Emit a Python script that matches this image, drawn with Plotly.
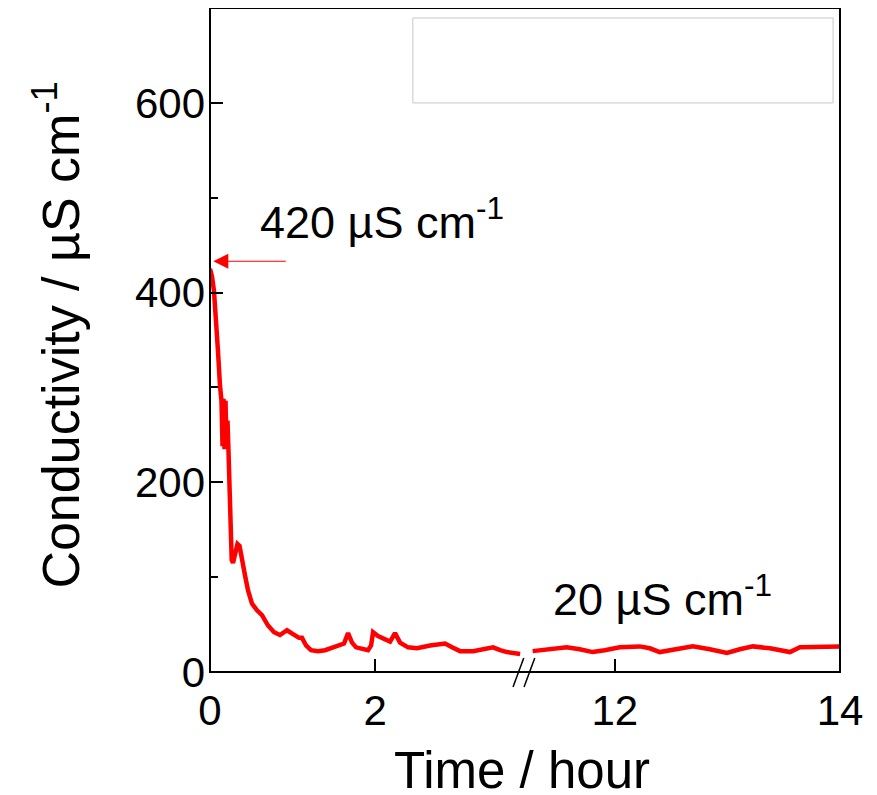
import plotly.graph_objects as go

# ---- data ----
time_early = [0, 0.024, 0.048, 0.073, 0.097, 0.121, 0.139, 0.152, 0.164, 0.176, 0.188, 0.2, 0.212, 0.224,
              0.236, 0.242, 0.255, 0.263, 0.279, 0.303, 0.333, 0.358, 0.388, 0.424, 0.461, 0.509, 0.57,
              0.63, 0.703, 0.776, 0.848, 0.933, 1.006, 1.079, 1.115, 1.164, 1.224, 1.309, 1.394, 1.491,
              1.576, 1.624, 1.673, 1.721, 1.77, 1.842, 1.915, 1.952, 1.976, 2.036, 2.121, 2.182, 2.242,
              2.303, 2.4, 2.509, 2.667, 2.848, 2.933, 3.03, 3.188, 3.333, 3.43, 3.515, 3.6, 3.758]
cond_early = [425, 417, 402, 375, 338, 302, 286, 238, 288, 235, 286, 238, 265, 233,
              201, 160, 133, 118, 115, 123, 135, 133, 117, 102, 86, 72, 65,
              60, 49, 42, 39, 44, 40, 36, 36, 28, 23, 22, 23, 26,
              29, 30, 41, 31, 26, 24, 23, 28, 42, 38, 34, 32, 41,
              31, 26, 25, 28, 30, 26, 22, 22, 24, 26, 23, 21, 19]

time_late = [11.271, 11.378, 11.467, 11.573, 11.689, 11.804, 11.911, 12.044, 12.222, 12.311, 12.4,
             12.533, 12.693, 12.844, 12.996, 13.111, 13.227, 13.378, 13.556, 13.644, 13.822, 14.0]
cond_late = [22, 23, 25, 26, 24, 21, 23, 26, 27, 25, 21,
             24, 27, 24, 20, 24, 27, 25, 21, 26, 27, 27]

x_ticks_early = [0, 2]
x_ticks_late = [12, 14]
y_ticks = [0, 200, 400, 600]
y_minor_ticks = [100, 300, 500]

RED = "#ff0000"
FONT = "Arial, Liberation Sans, sans-serif"

fig = go.Figure()
fig.add_trace(go.Scatter(x=time_early, y=cond_early, mode="lines", xaxis="x", yaxis="y",
                         line=dict(color=RED, width=4.5), showlegend=False))
fig.add_trace(go.Scatter(x=time_late, y=cond_late, mode="lines", xaxis="x2", yaxis="y",
                         line=dict(color=RED, width=4.5), showlegend=False))

split = 0.503
axis_common = dict(showgrid=False, zeroline=False, showline=False, ticks="inside",
                   ticklen=13, tickwidth=1.5, tickcolor="black",
                   tickfont=dict(family=FONT, size=42, color="black"))

fig.update_layout(
    width=877, height=795,
    margin=dict(l=202, r=45, t=0, b=131),
    paper_bgcolor="white", plot_bgcolor="white",
    showlegend=False,
    xaxis=dict(domain=[0, split], range=[0, 3.84], tickmode="array", tickvals=x_ticks_early,
               anchor="y", ticklabelstandoff=10, **axis_common),
    xaxis2=dict(domain=[split, 1], range=[11.22, 14], tickmode="array", tickvals=x_ticks_late,
                anchor="y", ticklabelstandoff=10, **axis_common),
    yaxis=dict(range=[0, 700], tickmode="array", tickvals=y_ticks, anchor="x",
               minor=dict(tickmode="array", tickvals=y_minor_ticks, ticks="inside", ticklen=8,
                          tickwidth=1.5, tickcolor="black"),
               ticklabelstandoff=4, **axis_common),
)

# frame, legend box and axis-break marks
fig.add_shape(type="rect", xref="paper", yref="paper", x0=0, x1=1, y0=0, y1=1,
              line=dict(color="black", width=2), fillcolor="rgba(0,0,0,0)", layer="above")
fig.add_shape(type="rect", xref="paper", yref="paper", x0=0.322, x1=0.989, y0=0.857, y1=0.985,
              line=dict(color="#c8c8c8", width=1), fillcolor="white", layer="below")
for dx in (0.0, 0.0175):
    fig.add_shape(type="line", xref="paper", yref="paper",
                  x0=0.481 + dx, y0=-0.0226, x1=0.498 + dx, y1=0.021,
                  line=dict(color="black", width=1.5))

# annotations
fig.add_annotation(xref="x", yref="y", x=0.04, y=433, ax=74, ay=0, text="",
                   showarrow=True, arrowhead=2, arrowsize=2.5, arrowwidth=1.2, arrowcolor=RED)
fig.add_annotation(xref="x", yref="y", x=2.085, y=478, text="420 µS cm<sup>-1</sup>",
                   xanchor="center", yanchor="middle",
                   showarrow=False, font=dict(family=FONT, size=45, color="black"))
fig.add_annotation(xref="x2", yref="y", x=12.42, y=80, text="20 µS cm<sup>-1</sup>",
                   xanchor="center", yanchor="middle",
                   showarrow=False, font=dict(family=FONT, size=45, color="black"))

# axis titles
fig.add_annotation(xref="paper", yref="paper", x=0.495, y=-0.148, text="Time / hour",
                   xanchor="center", yanchor="middle",
                   showarrow=False, font=dict(family=FONT, size=51, color="black"))
fig.add_annotation(xref="paper", yref="paper", x=-0.243, y=0.508, textangle=-90,
                   text="Conductivity / µS cm<sup>-1</sup>",
                   xanchor="center", yanchor="middle",
                   showarrow=False, font=dict(family=FONT, size=52, color="black"))

fig.write_html("out.html")
